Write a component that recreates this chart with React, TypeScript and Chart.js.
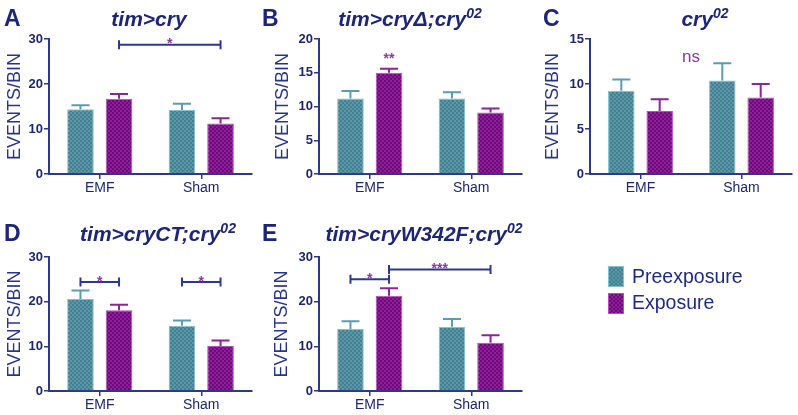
import React, { useEffect, useRef } from "react";
import { Chart, registerables } from "chart.js";
Chart.register(...registerables);

// ---------- DATA ----------
const categories = ["EMF", "Sham"];
const seriesNames = ["Preexposure", "Exposure"];

const aPre = [14.4, 14.2];
const aPreErr = [0.9, 1.4];
const aExp = [16.7, 11.2];
const aExpErr = [1.1, 1.2];

const bPre = [11.2, 11.2];
const bPreErr = [1.1, 0.9];
const bExp = [15.0, 9.1];
const bExpErr = [0.6, 0.6];

const cPre = [9.25, 10.4];
const cPreErr = [1.25, 1.9];
const cExp = [7.0, 8.5];
const cExpErr = [1.3, 1.5];

const dPre = [20.6, 14.6];
const dPreErr = [1.9, 1.2];
const dExp = [18.1, 10.1];
const dExpErr = [1.2, 1.2];

const ePre = [13.9, 14.4];
const ePreErr = [1.7, 1.7];
const eExp = [21.3, 10.8];
const eExpErr = [1.7, 1.7];

const yMaxes = [30, 20, 15, 30, 30];
const yStepSizes = [10, 5, 5, 10, 10];

// significance marks: [category, dataset] endpoints, y value, label
type Sig = { from: [number, number]; to: [number, number]; y: number; label: string; bracket: boolean };
const aSig: Sig[] = [{ from: [0, 1], to: [1, 1], y: 28.7, label: "*", bracket: true }];
const bSig: Sig[] = [{ from: [0, 1], to: [0, 1], y: 17.6, label: "**", bracket: false }];
const cSig: Sig[] = [{ from: [0, 1], to: [1, 0], y: 13.0, label: "ns", bracket: false }];
const dSig: Sig[] = [
  { from: [0, 0], to: [0, 1], y: 24.4, label: "*", bracket: true },
  { from: [1, 0], to: [1, 1], y: 24.4, label: "*", bracket: true },
];
const eSig: Sig[] = [
  { from: [0, 0], to: [0, 1], y: 25.0, label: "*", bracket: true },
  { from: [0, 1], to: [1, 1], y: 27.2, label: "***", bracket: true },
];

// ---------- STYLE / LAYOUT ----------
const NAVY = "#1d2578";
const AXIS = "#2b3891";
const STAR = "#8a3a9e";
const W = 798;
const H = 415;
const FONT = "'Liberation Sans', Arial, Helvetica, sans-serif";

type Panel = {
  letter: string;
  pre: number[]; preErr: number[]; exp: number[]; expErr: number[];
  yMax: number; step: number; sig: Sig[];
  area: { l: number; r: number; t: number; b: number };
  yw: number;
  titleX: number; titleY: number; letterX: number;
  title: React.ReactNode;
};

const sup = (s: string) => <sup style={{ fontSize: "14px", verticalAlign: "0.55em", lineHeight: 0 }}>{s}</sup>;

const panels: Panel[] = [
  { letter: "A", pre: aPre, preErr: aPreErr, exp: aExp, expErr: aExpErr, yMax: yMaxes[0], step: yStepSizes[0], sig: aSig,
    area: { l: 49, r: 252, t: 39, b: 174 }, yw: 49, titleX: 149, titleY: 18, letterX: 4, title: <>tim&gt;cry</> },
  { letter: "B", pre: bPre, preErr: bPreErr, exp: bExp, expErr: bExpErr, yMax: yMaxes[1], step: yStepSizes[1], sig: bSig,
    area: { l: 319, r: 522, t: 39, b: 174 }, yw: 51, titleX: 410, titleY: 18, letterX: 262, title: <>tim&gt;cryΔ;cry{sup("02")}</> },
  { letter: "C", pre: cPre, preErr: cPreErr, exp: cExp, expErr: cExpErr, yMax: yMaxes[2], step: yStepSizes[2], sig: cSig,
    area: { l: 590, r: 792, t: 39, b: 174 }, yw: 52, titleX: 705, titleY: 18, letterX: 543, title: <>cry{sup("02")}</> },
  { letter: "D", pre: dPre, preErr: dPreErr, exp: dExp, expErr: dExpErr, yMax: yMaxes[3], step: yStepSizes[3], sig: dSig,
    area: { l: 49, r: 252, t: 257, b: 391 }, yw: 49, titleX: 158, titleY: 233, letterX: 4, title: <>tim&gt;cryCT;cry{sup("02")}</> },
  { letter: "E", pre: ePre, preErr: ePreErr, exp: eExp, expErr: eExpErr, yMax: yMaxes[4], step: yStepSizes[4], sig: eSig,
    area: { l: 319, r: 522, t: 257, b: 391 }, yw: 52, titleX: 424, titleY: 233, letterX: 262, title: <>tim&gt;cryW342F;cry{sup("02")}</> },
];

function makePattern(base: string, dark: string): CanvasPattern | string {
  const c = document.createElement("canvas");
  c.width = 4; c.height = 4;
  const ctx = c.getContext("2d");
  if (!ctx) return base;
  ctx.fillStyle = base; ctx.fillRect(0, 0, 4, 4);
  ctx.fillStyle = dark; ctx.fillRect(0, 0, 2, 2); ctx.fillRect(2, 2, 2, 2);
  return ctx.createPattern(c, "repeat") || base;
}

const TEAL = { base: "#5898a8", dark: "#467f90", border: "#80c2d0", err: "#5a9db0" };
const PURP = { base: "#8f1e98", dark: "#6c0c7a", border: "#b24fc0", err: "#8c2396" };

function PanelChart({ p }: { p: Panel }) {
  const ref = useRef<HTMLCanvasElement | null>(null);
  useEffect(() => {
    if (!ref.current) return;
    const errs = [p.preErr, p.expErr];
    const errColors = [TEAL.err, PURP.err];
    const errorPlugin = {
      id: "errbars",
      afterDatasetsDraw(chart: any) {
        const ctx = chart.ctx;
        const ys = chart.scales.y;
        chart.data.datasets.forEach((ds: any, i: number) => {
          const meta = chart.getDatasetMeta(i);
          meta.data.forEach((bar: any, j: number) => {
            const v = ds.data[j];
            const top = ys.getPixelForValue(v + errs[i][j]);
            const x = bar.x;
            ctx.save();
            ctx.strokeStyle = errColors[i];
            ctx.lineWidth = 2;
            ctx.beginPath();
            ctx.moveTo(x, bar.y);
            ctx.lineTo(x, top);
            ctx.moveTo(x - 9, top);
            ctx.lineTo(x + 9, top);
            ctx.stroke();
            ctx.restore();
          });
        });
      },
    };
    const sigPlugin = {
      id: "sig",
      afterDraw(chart: any) {
        const ctx = chart.ctx;
        const ys = chart.scales.y;
        p.sig.forEach((s) => {
          const x1 = chart.getDatasetMeta(s.from[1]).data[s.from[0]].x;
          const x2 = chart.getDatasetMeta(s.to[1]).data[s.to[0]].x;
          const y = ys.getPixelForValue(s.y);
          ctx.save();
          if (s.bracket) {
            ctx.strokeStyle = AXIS;
            ctx.lineWidth = 2;
            ctx.beginPath();
            ctx.moveTo(x1, y); ctx.lineTo(x2, y);
            ctx.moveTo(x1, y - 4.5); ctx.lineTo(x1, y + 4.5);
            ctx.moveTo(x2, y - 4.5); ctx.lineTo(x2, y + 4.5);
            ctx.stroke();
            ctx.fillStyle = STAR;
            ctx.font = `bold 14px ${FONT}`;
            ctx.textAlign = "center";
            ctx.textBaseline = "alphabetic";
            ctx.fillText(s.label, (x1 + x2) / 2, y - 4.5 + 8);
          } else if (s.label === "ns") {
            ctx.fillStyle = STAR;
            ctx.font = `17px ${FONT}`;
            ctx.textAlign = "center";
            ctx.textBaseline = "alphabetic";
            ctx.fillText(s.label, (x1 + x2) / 2, y + 4.5);
          } else {
            ctx.fillStyle = STAR;
            ctx.font = `bold 14px ${FONT}`;
            ctx.textAlign = "center";
            ctx.textBaseline = "alphabetic";
            ctx.fillText(s.label, (x1 + x2) / 2, y + 8);
          }
          ctx.restore();
        });
      },
    };
    const chart = new Chart(ref.current, {
      type: "bar",
      data: {
        labels: categories,
        datasets: [
          { label: seriesNames[0], data: p.pre, backgroundColor: makePattern(TEAL.base, TEAL.dark) as any, borderColor: TEAL.border, borderWidth: 1, categoryPercentage: 0.76, barPercentage: 0.69 },
          { label: seriesNames[1], data: p.exp, backgroundColor: makePattern(PURP.base, PURP.dark) as any, borderColor: PURP.border, borderWidth: 1, categoryPercentage: 0.76, barPercentage: 0.69 },
        ],
      },
      options: {
        responsive: false,
        animation: false,
        events: [],
        layout: { padding: { left: p.area.l - p.yw, top: p.area.t, right: W - p.area.r, bottom: H - p.area.b - 26 } },
        plugins: { legend: { display: false }, tooltip: { enabled: false }, title: { display: false } },
        scales: {
          x: {
            type: "category",
            offset: true,
            afterFit: (s: any) => { s.height = 26; },
            grid: { display: true, drawOnChartArea: false, drawTicks: true, tickLength: 5, color: AXIS, lineWidth: 1.5, offset: false },
            border: { display: true, color: AXIS, width: 2 },
            ticks: { color: NAVY, font: { family: FONT, size: 14 }, padding: 1, maxRotation: 0 },
          },
          y: {
            min: 0,
            max: p.yMax,
            afterFit: (s: any) => { s.width = p.yw; },
            grid: { display: true, drawOnChartArea: false, drawTicks: true, tickLength: 5, color: AXIS, lineWidth: 1.5 },
            border: { display: true, color: AXIS, width: 2 },
            ticks: { stepSize: p.step, color: NAVY, font: { family: FONT, size: 13, weight: "bold" }, padding: 1 },
            title: { display: true, text: "EVENTS/BIN", color: "#27348c", font: { family: FONT, size: 18 }, padding: { top: 4, bottom: 4 } },
          },
        },
      },
      plugins: [errorPlugin, sigPlugin],
    } as any);
    return () => chart.destroy();
  }, [p]);
  return <canvas ref={ref} width={W} height={H} style={{ position: "absolute", left: 0, top: 0, width: W, height: H }} />;
}

function checkerCSS(base: string, dark: string) {
  return {
    backgroundColor: base,
    backgroundImage: `linear-gradient(45deg, ${dark} 25%, transparent 25%, transparent 75%, ${dark} 75%), linear-gradient(45deg, ${dark} 25%, transparent 25%, transparent 75%, ${dark} 75%)`,
    backgroundSize: "4px 4px",
    backgroundPosition: "0 0, 2px 2px",
  } as React.CSSProperties;
}

export default function App() {
  return (
    <div style={{ position: "absolute", left: 0, top: 0, width: W, height: H, background: "#fff", overflow: "hidden", fontFamily: FONT }}>
      {panels.map((p) => (
        <PanelChart key={p.letter} p={p} />
      ))}
      {panels.map((p) => (
        <React.Fragment key={"t" + p.letter}>
          <div style={{ position: "absolute", left: p.letterX, top: p.titleY, transform: "translateY(-50%)", fontWeight: "bold", fontSize: 23, color: NAVY, lineHeight: 1 }}>{p.letter}</div>
          <div style={{ position: "absolute", left: p.titleX, top: p.titleY, transform: "translate(-50%, -50%)", fontWeight: "bold", fontStyle: "italic", fontSize: 21, color: NAVY, whiteSpace: "nowrap", lineHeight: 1 }}>{p.title}</div>
        </React.Fragment>
      ))}
      <div style={{ position: "absolute", left: 608, top: 266, width: 16, height: 21, border: `1px solid ${TEAL.border}`, boxSizing: "border-box", ...checkerCSS(TEAL.base, TEAL.dark) }} />
      <div style={{ position: "absolute", left: 608, top: 293, width: 16, height: 21, border: `1px solid ${PURP.border}`, boxSizing: "border-box", ...checkerCSS(PURP.base, PURP.dark) }} />
      <div style={{ position: "absolute", left: 632, top: 277, transform: "translateY(-50%)", fontSize: 19.5, color: "#1f2a85", lineHeight: 1, whiteSpace: "nowrap" }}>{seriesNames[0]}</div>
      <div style={{ position: "absolute", left: 632, top: 303, transform: "translateY(-50%)", fontSize: 19.5, color: "#1f2a85", lineHeight: 1, whiteSpace: "nowrap" }}>{seriesNames[1]}</div>
    </div>
  );
}
